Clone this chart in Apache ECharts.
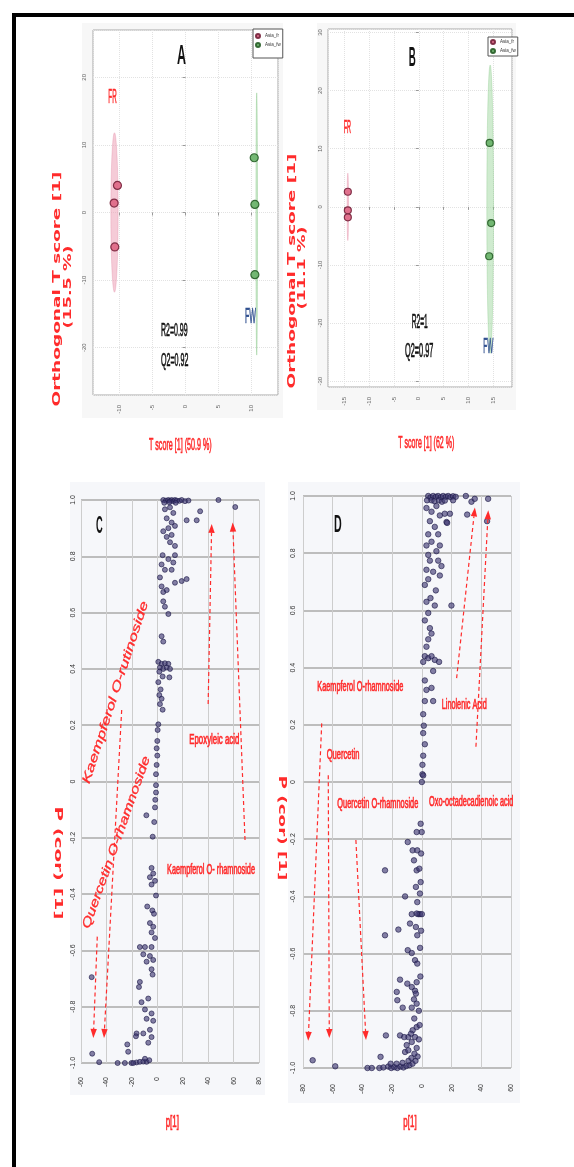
<!DOCTYPE html>
<html><head><meta charset="utf-8">
<style>html,body{margin:0;padding:0;background:#fff;}#c{width:574px;height:1167px;}</style>
<script src="https://cdn.jsdelivr.net/npm/echarts@6/dist/echarts.min.js"></script>
</head><body><div id="c"></div>
<script>
// ================= DATA =================
const groups = ['Asia_fr', 'Asia_fw'];
// Panel A score plot: [T score, orthogonal T score]
const scoreA_fr = [[-10.3, 4.0], [-10.8, 1.4], [-10.7, -5.1]];
const scoreA_fw = [[10.4, 8.1], [10.5, 1.2], [10.5, -9.2]];
// Panel B score plot
const scoreB_fr = [[-14.3, 2.6], [-14.3, -0.6], [-14.3, -1.8]];
const scoreB_fw = [[14.3, 11.0], [14.6, -2.8], [14.2, -8.5]];
// Confidence ellipses: [centre t, centre to, half-width, half-height]
const ellipseA_fr = [-10.75, 0.0, 0.55, 11.8];
const ellipseA_fw = [10.78, -1.7, 0.12, 19.4];
const ellipseB_fr = [-14.3, 0.0, 0.15, 5.8];
const ellipseB_fw = [14.4, -0.4, 0.68, 24.8];
// Panel C S-plot: [p[1], p(corr)[1]]
const splotC = [
 [4.7,1.0],[6.8,0.998],[8.7,1.0],[10,0.997],[11.3,1.0],[12.6,0.996],[13.9,1.0],[15.3,0.998],[17.4,0.997],[19.2,1.0],
 [21.8,0.996],[24.5,0.998],[5.5,0.99],[9.5,0.992],[14.5,0.99],[48.1,1.0],[61.3,0.975],
 [6.0,0.967],[10,0.974],[12.6,0.954],[7.4,0.935],[11.3,0.92],[23.1,0.928],[33.7,0.96],[31,0.928],[8.7,0.90],
 [13.9,0.908],[4.7,0.889],[7.4,0.869],[11.3,0.876],[10,0.85],[13.9,0.837],[4.2,0.804],[8.7,0.79],[12.6,0.778],
 [13.9,0.804],[3.4,0.771],[6,0.752],[11.3,0.752],[13.9,0.706],[19.2,0.712],[23.1,0.719],[2.1,0.725],[3.4,0.693],
 [4.7,0.673],[7.4,0.68],[4.7,0.64],[6,0.621],[8.7,0.595],[3.4,0.516],[4.7,0.497],
 [0.8,0.425],[3.4,0.418],[6,0.42],[8.7,0.418],[2.1,0.405],[4.7,0.40],[7.4,0.405],[10,0.40],[1.6,0.39],[4.2,0.373],[9.5,0.37],
 [0.8,0.353],[2.6,0.327],[1.6,0.307],[3.4,0.294],[2.1,0.275],[4.2,0.255],[0.8,0.203],[0.3,0.183],[0,0.144],
 [-0.5,0.118],[0,0.092],[-0.5,0.059],[-1,0.026],[-1,-0.013],[-1,-0.039],[-1.6,-0.065],[-1.8,-0.092],[-8.6,-0.12],
 [-2.4,-0.144],[-3.6,-0.196],
 [-4.5,-0.307],[-3.2,-0.327],[-5.8,-0.34],[-1.8,-0.353],[-4.5,-0.366],[-1,-0.405],[-7.9,-0.444],[-3.9,-0.458],
 [-2.6,-0.47],[-5.8,-0.503],[-3.2,-0.516],[-4.5,-0.536],[-1.8,-0.556],[-13.7,-0.588],[-9.7,-0.588],[-4.5,-0.588],
 [-11,-0.614],[-5.8,-0.62],[-3.2,-0.634],[-8.4,-0.64],[-4.5,-0.667],[-3.7,-0.686],[-13.7,-0.712],[-14.4,-0.73],
 [-7.1,-0.771],[-12.4,-0.784],[-9.7,-0.81],[-4.5,-0.824],[-8.4,-0.843],[-3.2,-0.85],[-16.3,-0.895],[-11,-0.895],
 [-5.8,-0.882],[-22.9,-0.96],[-7.1,-0.928],[-4.5,-0.908],[-23.6,-0.934],[-16.8,-0.905],
 [-25.5,-1.0],[-20.3,-1.0],[-16.3,-0.998],[-13.7,-0.996],[-11,-0.995],[-8.4,-0.996],[-6.3,-0.99],[-9.7,-0.985],
 [-31.2,-1.0],[-18.9,-1.0],[-45.7,-0.997],[-51.2,-0.967],[-51.6,-0.695]
];
// Panel D S-plot
const splotD = [
 [4.3,1.0],[5.8,0.995],[7.6,1.0],[9.4,0.997],[10.9,1.0],[12.7,0.996],[14.3,1.0],[16.1,0.997],[17.7,1.0],[19.2,0.996],
 [21,0.999],[22.8,0.997],[3.5,0.985],[6.5,0.985],[8.5,0.982],[11.5,0.985],[13.5,0.98],[15.5,0.984],
 [29.6,1.0],[33.4,0.98],[35.6,0.99],[30.5,0.935],[44.6,0.99],[43.9,0.912],[16.6,0.909],[18.9,0.938],[21,0.985],
 [3.1,0.958],[6.5,0.945],[9.8,0.965],[12.1,0.932],[15.4,0.938],[17,0.906],[5.4,0.912],[8.7,0.892],[4.3,0.866],
 [11,0.866],[6.5,0.84],[3.1,0.827],[12.1,0.827],[9.8,0.807],[4.3,0.794],[5.4,0.774],[11,0.774],[13.2,0.755],
 [3.1,0.742],[7.6,0.735],[12.1,0.722],[4.3,0.709],[2,0.689],[9.4,0.67],[5.8,0.643],[3.1,0.63],[8.7,0.617],
 [19.9,0.617],[4.3,0.591],[2,0.565],[5.4,0.538],[6.5,0.519],[4.3,0.499],[3.1,0.473],[2,0.44],[4.3,0.433],
 [6.5,0.44],[8.7,0.427],[11.6,0.42],[0.9,0.42],[7.6,0.388],[2,0.355],[3.1,0.322],[6.5,0.329],[7.6,0.283],
 [2,0.283],[0.9,0.237],[1.3,0.197],[0.9,0.171],[2,0.132],[0.9,0.092],[0.4,0.06],[0.4,0.027],[0,0.0],[0.9,0.023],
 [-0.8,-0.146],[-0.1,-0.175],[-3.5,-0.175],[-9.5,-0.21],[-6.2,-0.239],[-3.1,-0.239],[-5.3,-0.274],[-24.8,-0.309],
 [-3.5,-0.309],[-1.7,-0.303],[-4,-0.367],[-1.3,-0.39],[-11.3,-0.4],[-3.1,-0.42],[-6.8,-0.462],[-2.4,-0.462],
 [-1.3,-0.462],[0,-0.462],[-3.5,-0.46],[-8,-0.495],[-4,-0.507],[-15.8,-0.516],[-24.8,-0.536],[-3.1,-0.536],
 [-9.5,-0.588],[-6.8,-0.598],[-4.6,-0.623],[-3.1,-0.635],[-14.7,-0.691],[-9.8,-0.705],[-6.8,-0.717],[-3.5,-0.70],
 [-4.6,-0.73],[-5.3,-0.76],[-4,-0.74],[-16.9,-0.734],[-16.5,-0.763],[-12.9,-0.789],[-6.8,-0.789],[-3.5,-0.775],
 [-5.1,-0.827],[-3.5,-0.857],[-6.2,-0.868],[-9.1,-0.892],[-7.3,-0.88],[-4.6,-0.892],[-6.8,-0.909],[-10.2,-0.92],
 [-11.3,-0.944],[-9.1,-0.938],[-14.7,-0.886],[-11.9,-0.892],[-24.2,-0.886],[-27.8,-0.961],[-73.5,-0.973],
 [-58.3,-0.994],[-36.6,-1.0],[-33.7,-1.0],[-28.6,-1.0],[-25.9,-0.998],
 [-22.6,-0.995],[-20.6,-1.0],[-18.6,-0.997],[-16.5,-1.0],[-14.5,-0.995],[-12.4,-0.998],[-10.4,-0.993],[-8.4,-0.99],
 [-6.3,-0.985],[-4.3,-0.975],[-2.9,-0.96],[-21,-0.985],[-17,-0.985],[-13,-0.982],[-9,-0.975],[-7,-0.965],
 [-5,-0.95],[-3.5,-0.93],[-2,-0.9],[-1.5,-0.85],[-2,-0.80],[-1,-0.68],[-1.2,-0.58],[-0.5,-0.52],[-0.8,-0.35],[-0.5,-0.25]
];
// Annotation arrows in data coordinates: [from, to]
const arrowsC = [
 [[40.0, 0.275], [42.8, 0.915]],
 [[69.0, -0.208], [59.3, 0.92]],
 [[-28.0, 0.254], [-41.9, -0.911]],
 [[-47.2, -0.551], [-50.3, -0.911]]
];
const arrowsD = [
 [[-67.4, 0.205], [-76.5, -0.905]],
 [[-63.0, 0.024], [-62.3, -0.895]],
 [[-44.4, -0.203], [-37.6, -0.902]],
 [[23.4, 0.363], [35.7, 0.96]],
 [[36.4, 0.123], [44.7, 0.95]]
];
const panelLetters = ['A', 'B', 'C', 'D'];
const compoundsC = ['Kaempferol O-rutinoside', 'Quercetin O-rhamnoside', 'Epoxyleic acid', 'Kaempferol O- rhamnoside'];
const compoundsD = ['Kaempferol O-rhamnoside', 'Quercetin', 'Quercetin O-rhamnoside', 'Linolenic Acid', 'Oxo-octadecadienoic acid'];

// ================= STYLE / LAYOUT =================
const RED = '#ff2b2b', BLUE = '#2f4f8f', INK = '#111';
const chart = echarts.init(document.getElementById('c'));

const smallLbl = {fontSize: 6, color: '#666', rotate: 90, showMinLabel: false, showMaxLabel: false, fontFamily: 'Liberation Sans'};
function scoreX(gi, min, max, split, margin) {
  return {gridIndex: gi, type: 'value', min, max, splitNumber: split,
    axisLine: {show: false}, axisTick: {show: true, length: 3, lineStyle: {color: '#999'}},
    axisLabel: Object.assign({}, smallLbl, {margin}),
    splitLine: {show: true, lineStyle: {color: '#e2e2e2', type: 'dotted'}}};
}
const splotLbl = {fontSize: 7, color: '#333', rotate: 90, fontFamily: 'Liberation Sans', showMinLabel: true, showMaxLabel: true};
function splotX(gi, min, max, margin) {
  return {gridIndex: gi, type: 'value', min, max, interval: 20,
    axisLine: {show: false}, axisTick: {show: false},
    axisLabel: Object.assign({}, splotLbl, {margin}),
    splitLine: {show: true, lineStyle: {color: '#cdcdcd', width: 1}}};
}
function splotY(gi, margin) {
  return {gridIndex: gi, type: 'value', min: -1, max: 1, interval: 0.2,
    axisLine: {show: false}, axisTick: {show: false},
    axisLabel: Object.assign({}, splotLbl, {margin, formatter: v => Math.abs(v) < 1e-9 ? '0' : v.toFixed(1)}),
    splitLine: {show: true, lineStyle: {color: '#bdbdbd', width: 2}}};
}
function ellipse(name, gi, e, fill, stroke) {
  return {type: 'custom', name, xAxisIndex: gi, yAxisIndex: gi, data: [e], silent: true, z: 1,
    renderItem(params, api) {
      const c = api.coord([api.value(0), api.value(1)]);
      const s = api.size([api.value(2), api.value(3)]);
      return {type: 'ellipse', shape: {cx: c[0], cy: c[1], rx: Math.max(s[0], 0.6), ry: s[1]},
        style: {fill, stroke, lineWidth: 0.6}};
    }};
}
const frStyle = {color: '#de6a88', borderColor: '#7a2840', borderWidth: 1.2, opacity: 0.95};
const fwStyle = {color: '#6db46d', borderColor: '#2d632d', borderWidth: 1.2, opacity: 0.95};
const sStyle = {color: 'rgba(64,58,115,0.8)', borderColor: '#1e1a48', borderWidth: 0.8};

const legendBase = {orient: 'vertical', data: groups, icon: 'circle', itemWidth: 4, itemHeight: 4, itemGap: 3,
  selectedMode: false, borderColor: '#555', borderWidth: 1, backgroundColor: '#fff',
  textStyle: {fontSize: 4.5, color: '#333', fontFamily: 'Liberation Sans'}};

chart.setOption({
  animation: false,
  backgroundColor: '#fff',
  legend: [
    Object.assign({}, legendBase, {left: 253, top: 29, padding: [4, 2, 10, 2]}),
    Object.assign({}, legendBase, {left: 488, top: 37, padding: [2, 2, 2, 2]})
  ],
  grid: [
    {left: 93, top: 30, width: 185, height: 365, show: true, backgroundColor: '#fff', borderColor: '#a8a8a8', borderWidth: 1},
    {left: 328, top: 29, width: 184, height: 358, show: true, backgroundColor: '#fff', borderColor: '#a8a8a8', borderWidth: 1},
    {left: 81, top: 500, width: 178, height: 563, show: true, backgroundColor: '#f6f7fa', borderWidth: 0},
    {left: 303, top: 496, width: 208, height: 572, show: true, backgroundColor: '#f6f7fa', borderWidth: 0}
  ],
  xAxis: [
    scoreX(0, -14, 14, 5, 10),
    scoreX(1, -18.3, 18.8, 7, 10),
    splotX(2, -60, 80, 14),
    splotX(3, -80, 60, 16)
  ],
  yAxis: [
    scoreX(0, -27, 27, 5, 6),
    scoreX(1, -31, 30.6, 5, 5),
    splotY(2, 4),
    splotY(3, 6)
  ],
  series: [
    ellipse('fr region A', 0, ellipseA_fr, 'rgba(236,160,182,0.55)', 'rgba(220,120,150,0.5)'),
    ellipse('fw region A', 0, ellipseA_fw, 'rgba(160,215,160,0.5)', 'rgba(120,190,120,0.6)'),
    ellipse('fr region B', 1, ellipseB_fr, 'rgba(236,160,182,0.55)', 'rgba(220,120,150,0.5)'),
    ellipse('fw region B', 1, ellipseB_fw, 'rgba(160,215,160,0.5)', 'rgba(120,190,120,0.5)'),
    {type: 'scatter', name: groups[0], xAxisIndex: 0, yAxisIndex: 0, data: scoreA_fr, symbolSize: 8, itemStyle: frStyle, z: 3},
    {type: 'scatter', name: groups[1], xAxisIndex: 0, yAxisIndex: 0, data: scoreA_fw, symbolSize: 8, itemStyle: fwStyle, z: 3},
    {type: 'scatter', name: groups[0], xAxisIndex: 1, yAxisIndex: 1, data: scoreB_fr, symbolSize: 7, itemStyle: frStyle, z: 3},
    {type: 'scatter', name: groups[1], xAxisIndex: 1, yAxisIndex: 1, data: scoreB_fw, symbolSize: 7, itemStyle: fwStyle, z: 3},
    {type: 'scatter', name: 'S-plot C', xAxisIndex: 2, yAxisIndex: 2, data: splotC, symbolSize: 5, itemStyle: sStyle, z: 3},
    {type: 'scatter', name: 'S-plot D', xAxisIndex: 3, yAxisIndex: 3, data: splotD, symbolSize: 5.5, itemStyle: sStyle, z: 3}
  ]
});

// ---------- annotations ----------
const mctx = document.createElement('canvas').getContext('2d');
function txt(text, cx, cy, size, width, color, o) {
  o = o || {};
  const fam = o.family || 'Liberation Sans', wt = o.weight || 'normal', st = o.style || 'normal';
  mctx.font = st + ' ' + wt + ' ' + size + 'px "' + fam + '"';
  const w = mctx.measureText(text).width;
  const style = {text, x: 0, y: 0, align: 'center', verticalAlign: 'middle', fill: color,
      fontSize: size, fontFamily: fam, fontWeight: wt, fontStyle: st};
  if (o.heavy) { style.stroke = color; style.lineWidth = o.heavy; }
  return {type: 'text', x: cx, y: cy, rotation: o.rotation || 0, scaleX: width / w, scaleY: 1, z: 20, style};
}
function arrow(gi, a) {
  const p1 = chart.convertToPixel({gridIndex: gi}, a[0]);
  const p2 = chart.convertToPixel({gridIndex: gi}, a[1]);
  const ang = Math.atan2(p2[1] - p1[1], p2[0] - p1[0]);
  const L = 9, W = 3.2;
  const b = [p2[0] - L * Math.cos(ang), p2[1] - L * Math.sin(ang)];
  const l = [b[0] + W * Math.sin(ang), b[1] - W * Math.cos(ang)];
  const r = [b[0] - W * Math.sin(ang), b[1] + W * Math.cos(ang)];
  return [
    {type: 'line', z: 15, shape: {x1: p1[0], y1: p1[1], x2: b[0], y2: b[1]}, style: {stroke: RED, lineWidth: 1.2, lineDash: [4, 3]}},
    {type: 'polygon', z: 15, shape: {points: [p2, l, r]}, style: {fill: RED}}
  ];
}
function bg(x, y, w, h, c) { return {type: 'rect', z: -5, shape: {x, y, width: w, height: h}, style: {fill: c}}; }

const DEG = Math.PI / 180;
const bold = {weight: 'bold'};
const hv = {heavy: 0.7};
const axT = {weight: 'bold', family: 'DejaVu Sans'};
const g = [
  bg(82, 23, 201, 395, '#f7f7f7'), bg(317, 23, 199, 387, '#f7f7f7'),
  bg(70, 482, 195, 613, '#f6f7fa'), bg(288, 482, 232, 621, '#f6f7fa'),
  {type: 'rect', z: 30, shape: {x: 12, y: 13, width: 600, height: 4}, style: {fill: '#000'}},
  {type: 'rect', z: 30, shape: {x: 12, y: 13, width: 4, height: 1200}, style: {fill: '#000'}},
  // panel A
  txt(panelLetters[0], 181.5, 57, 27, 9, INK, bold),
  txt('FR', 112.5, 97.5, 21, 8.3, RED, hv),
  txt('FW', 250.5, 316.5, 22, 11, BLUE, hv),
  txt('R2=0.99', 174.3, 330.3, 19, 26.7, INK, hv),
  txt('Q2=0.92', 174.7, 361, 19, 27.3, INK, hv),
  txt('T score [1] (50.9 %)', 180.3, 445, 17, 62.7, RED, hv),
  txt('Orthogonal T score [1]', 57.5, 289, 10, 235, RED, Object.assign({rotation: Math.PI / 2}, axT)),
  txt('(15.5 %)', 68.5, 287, 10, 83, RED, Object.assign({rotation: Math.PI / 2}, axT)),
  // panel B
  txt(panelLetters[1], 412.3, 58.3, 27, 7, INK, bold),
  txt('FR', 347.3, 128.3, 18, 7.3, RED, hv),
  txt('FW', 488.3, 346.7, 22, 10, BLUE, hv),
  txt('R2=1', 419.7, 322.5, 20, 16, INK, hv),
  txt('Q2=0.97', 419.2, 351.7, 20, 28.3, INK, hv),
  txt('T score [1] (62 %)', 426.3, 443.3, 17, 56, RED, hv),
  txt('Orthogonal T score [1]', 292.3, 271, 10, 235, RED, Object.assign({rotation: Math.PI / 2}, axT)),
  txt('(11.1 %)', 302.5, 268, 10, 83, RED, Object.assign({rotation: Math.PI / 2}, axT)),
  // panel C
  txt(panelLetters[2], 99.3, 526.7, 23, 6.7, INK, bold),
  txt(compoundsC[0], 115.5, 692.5, 12, 191, RED, {style: 'italic', rotation: 72 * DEG, heavy: 0.3}),
  txt(compoundsC[1], 116.5, 842.5, 12, 182, RED, {style: 'italic', rotation: 70.4 * DEG, heavy: 0.3}),
  txt(compoundsC[2], 214.3, 740, 14, 50, RED, hv),
  txt(compoundsC[3], 211, 870, 14, 88, RED, hv),
  txt('p[1]', 172.3, 1122.5, 16, 13.3, RED, hv),
  txt('P (cor) [1]', 58, 863, 10, 113, RED, Object.assign({rotation: -Math.PI / 2}, axT)),
  // panel D
  txt(panelLetters[3], 337.8, 525.3, 23, 7.7, INK, bold),
  txt(compoundsD[0], 360.3, 687.5, 14, 86, RED, hv),
  txt(compoundsD[1], 343, 755, 14, 32.7, RED, hv),
  txt(compoundsD[2], 377.8, 803.8, 14, 81, RED, hv),
  txt(compoundsD[3], 464.2, 704.7, 15, 45, RED, hv),
  txt(compoundsD[4], 471.2, 802, 14, 84.3, RED, hv),
  txt('p[1]', 410, 1122.5, 16, 13.3, RED, hv),
  txt('P (cor) [1]', 281.5, 828, 10, 105, RED, Object.assign({rotation: -Math.PI / 2}, axT))
];
arrowsC.forEach(a => g.push(...arrow(2, a)));
arrowsD.forEach(a => g.push(...arrow(3, a)));
chart.setOption({graphic: {elements: g}});
</script></body></html>
